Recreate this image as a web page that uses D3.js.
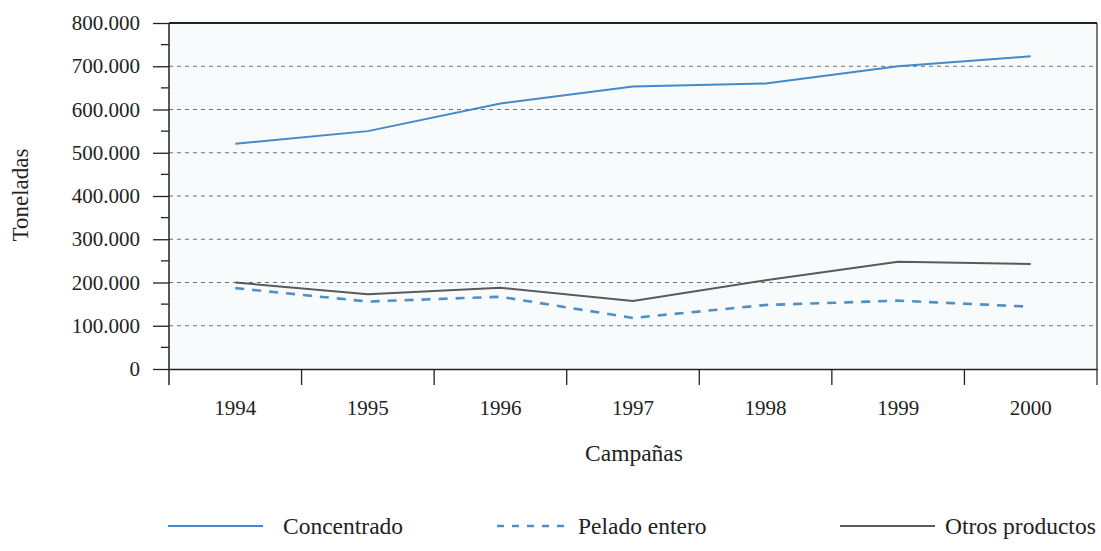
<!DOCTYPE html>
<html>
<head>
<meta charset="utf-8">
<script src="https://cdn.jsdelivr.net/npm/d3@7"></script>
<style>
  body { margin: 0; background: #fff; }
  text { font-family: "Liberation Serif", "DejaVu Serif", serif; fill: #222; }
</style>
</head>
<body>
<div id="chart"></div>
<script>
const years = ["1994", "1995", "1996", "1997", "1998", "1999", "2000"];
const concentrado = [521000, 550000, 614000, 653000, 660000, 700000, 723000];
const peladoEntero = [187000, 156000, 167000, 118000, 148000, 158000, 144000];
const otrosProductos = [200000, 173000, 188000, 157000, 205000, 248000, 243000];
const yTicks = [0, 100000, 200000, 300000, 400000, 500000, 600000, 700000, 800000];

const width = 1101;
const height = 551;
const margin = { top: 23, right: 4, bottom: 182, left: 169 };

const svg = d3.select("#chart")
  .append("svg")
  .attr("width", width)
  .attr("height", height);

const x = d3.scaleBand()
  .domain(years)
  .range([margin.left, width - margin.right]);

const y = d3.scaleLinear()
  .domain([0, 800000])
  .range([height - margin.bottom, margin.top]);

const fmt = v => v === 0 ? "0" : d3.format(",")(v).replace(/,/g, ".");

// plot background
svg.append("rect")
  .attr("x", margin.left)
  .attr("y", margin.top)
  .attr("width", width - margin.right - margin.left)
  .attr("height", y(0) - margin.top)
  .attr("fill", "#f8fbfc");

// gridlines
svg.append("g")
  .selectAll("line")
  .data(yTicks.filter(d => d > 0 && d < 800000))
  .join("line")
  .attr("x1", margin.left)
  .attr("x2", width - margin.right)
  .attr("y1", d => y(d))
  .attr("y2", d => y(d))
  .attr("stroke", "#6f6f6f")
  .attr("stroke-width", 1)
  .attr("stroke-dasharray", "4,4");

// frame top / right
svg.append("line")
  .attr("x1", margin.left).attr("x2", width - margin.right)
  .attr("y1", margin.top).attr("y2", margin.top)
  .attr("stroke", "#222").attr("stroke-width", 1.8);
svg.append("line")
  .attr("x1", width - margin.right).attr("x2", width - margin.right)
  .attr("y1", margin.top).attr("y2", y(0) + 16)
  .attr("stroke", "#222").attr("stroke-width", 1.2);

// y axis: major ticks with labels, minor ticks between
const yAxis = svg.append("g")
  .attr("transform", `translate(${margin.left},0)`)
  .call(d3.axisLeft(y).tickValues(yTicks).tickFormat(fmt).tickSize(16).tickPadding(13));
yAxis.select(".domain").remove();
yAxis.selectAll("line").attr("stroke", "#222").attr("stroke-width", 1.3);
yAxis.selectAll("text")
  .style("font-size", "21px")
  .attr("fill", "#222");

svg.append("g")
  .selectAll("line")
  .data(d3.range(50000, 800000, 100000))
  .join("line")
  .attr("x1", margin.left - 8)
  .attr("x2", margin.left)
  .attr("y1", d => y(d))
  .attr("y2", d => y(d))
  .attr("stroke", "#222")
  .attr("stroke-width", 1.3);

svg.append("line")
  .attr("x1", margin.left).attr("x2", margin.left)
  .attr("y1", margin.top).attr("y2", y(0) + 16)
  .attr("stroke", "#222").attr("stroke-width", 1.5);

// x axis
const xAxis = svg.append("g")
  .attr("transform", `translate(0,${y(0)})`)
  .call(d3.axisBottom(x).tickSize(0).tickPadding(31));
xAxis.select(".domain")
  .attr("stroke", "#222")
  .attr("stroke-width", 1.5);
xAxis.selectAll("text")
  .style("font-size", "21px")
  .attr("fill", "#222");

// tick marks on band edges
svg.append("g")
  .selectAll("line")
  .data(years.slice(1))
  .join("line")
  .attr("x1", d => x(d))
  .attr("x2", d => x(d))
  .attr("y1", y(0))
  .attr("y2", y(0) + 16)
  .attr("stroke", "#222")
  .attr("stroke-width", 1.3);

// axis titles
svg.append("text")
  .attr("x", 634)
  .attr("y", 461)
  .attr("text-anchor", "middle")
  .style("font-size", "23.5px")
  .text("Campañas");

svg.append("text")
  .attr("transform", `translate(28,195) rotate(-90)`)
  .attr("text-anchor", "middle")
  .style("font-size", "23px")
  .text("Toneladas");

// series
const series = [
  { name: "Concentrado", values: concentrado, color: "#4589ca", dash: null, width: 2 },
  { name: "Pelado entero", values: peladoEntero, color: "#4f8fc4", dash: "9,8", width: 2.6 },
  { name: "Otros productos", values: otrosProductos, color: "#5a5a5a", dash: null, width: 2 }
];

const line = d3.line()
  .x((d, i) => x(years[i]) + x.bandwidth() / 2)
  .y(d => y(d));

svg.append("g")
  .selectAll("path")
  .data(series)
  .join("path")
  .attr("d", d => line(d.values))
  .attr("fill", "none")
  .attr("stroke", d => d.color)
  .attr("stroke-width", d => d.width)
  .attr("stroke-dasharray", d => d.dash);

// legend
const legendX = [168, 497, 840];
const legend = svg.append("g")
  .selectAll("g")
  .data(series)
  .join("g")
  .attr("transform", (d, i) => `translate(${legendX[i]},526)`);

legend.append("line")
  .attr("x1", 0)
  .attr("x2", (d, i) => i === 1 ? 70 : 95)
  .attr("y1", 0)
  .attr("y2", 0)
  .attr("stroke", d => d.color)
  .attr("stroke-width", d => d.dash ? 2.4 : 1.8)
  .attr("stroke-dasharray", d => d.dash ? "7,8" : null);

legend.append("text")
  .attr("x", (d, i) => i === 1 ? 81 : (i === 0 ? 115 : 105))
  .attr("y", 8)
  .style("font-size", "23.5px")
  .text(d => d.name);
</script>
</body>
</html>
